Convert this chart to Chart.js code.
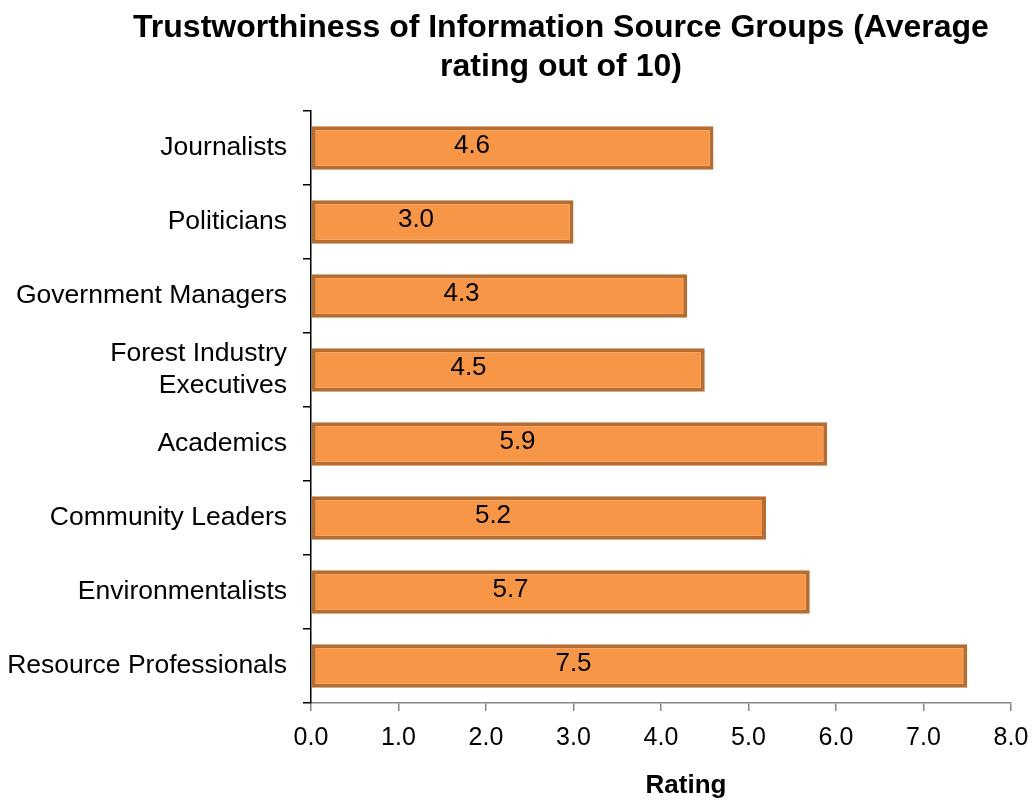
<!DOCTYPE html>
<html>
<head>
<meta charset="utf-8">
<title>Trustworthiness of Information Source Groups</title>
<script src="https://cdn.jsdelivr.net/npm/chart.js@4.4.1/dist/chart.umd.min.js"></script>
<style>
    html, body { margin: 0; padding: 0; background: #fff; }
    #wrap { width: 1033px; height: 800px; position: relative; }
</style>
</head>
<body>
<div id="wrap"><canvas id="mainChart"></canvas></div>
<script>
// --- DATA ---
const categories = [
    'Journalists',
    'Politicians',
    'Government Managers',
    ['Forest Industry', 'Executives'],
    'Academics',
    'Community Leaders',
    'Environmentalists',
    'Resource Professionals'
];
const ratings = [4.6, 3.0, 4.3, 4.5, 5.9, 5.2, 5.7, 7.5];
const xTicks = [0, 1, 2, 3, 4, 5, 6, 7, 8];
const titleLines = ['Trustworthiness of Information Source Groups (Average', 'rating out of 10)'];
const xTitle = 'Rating';

const FONT = '"Liberation Sans", Arial, sans-serif';

// --- TEXT PLUGIN (title, axis title, bar values) ---
const textPlugin = {
    id: 'texts',
    afterDatasetsDraw(chart) {
        const c = chart.ctx;
        const xs = chart.scales.x;
        c.save();
        c.fillStyle = '#000';
        c.textAlign = 'center';
        c.textBaseline = 'middle';

        // value labels inside bars
        c.font = '26px ' + FONT;
        chart.getDatasetMeta(0).data.forEach((bar, i) => {
            const x = xs.getPixelForValue(ratings[i] * 0.4);
            c.fillText(ratings[i].toFixed(1), x, bar.y - 2);
        });

        // chart title
        c.font = 'bold 32px ' + FONT;
        c.fillText(titleLines[0], 561, 28);
        c.fillText(titleLines[1], 561, 67);

        // axis title
        c.font = 'bold 26px ' + FONT;
        c.fillText(xTitle, 686, 786);
        c.restore();
    }
};

// --- CHART ---
const ctx = document.getElementById('mainChart').getContext('2d');
new Chart(ctx, {
    type: 'bar',
    data: {
        labels: categories,
        datasets: [{
            data: ratings,
            backgroundColor: '#F79646',
            borderColor: '#B66D31',
            borderWidth: 4,
            borderSkipped: false,
            categoryPercentage: 1.0,
            barPercentage: 0.59
        }]
    },
    options: {
        indexAxis: 'y',
        responsive: true,
        maintainAspectRatio: false,
        animation: false,
        layout: { padding: { top: 111, right: 22, left: 0, bottom: 0 } },
        plugins: {
            legend: { display: false },
            tooltip: { enabled: false }
        },
        scales: {
            x: {
                min: 0,
                max: 8,
                afterBuildTicks(scale) {
                    scale.ticks = xTicks.map(v => ({ value: v }));
                },
                afterFit(scale) {
                    scale.height = 97;
                    scale.paddingLeft = 0;
                    scale.paddingRight = 0;
                },
                border: { color: '#868686', width: 1.5 },
                grid: {
                    drawOnChartArea: false,
                    drawTicks: true,
                    tickLength: 8,
                    color: '#868686',
                    lineWidth: 1.5
                },
                ticks: {
                    color: '#000',
                    padding: 12,
                    maxRotation: 0,
                    font: { family: FONT, size: 25 },
                    callback: v => v.toFixed(1)
                }
            },
            y: {
                afterFit(scale) { scale.width = 311; },
                border: { color: '#000', width: 1.5 },
                grid: {
                    offset: true,
                    drawOnChartArea: false,
                    drawTicks: true,
                    tickLength: 8,
                    color: '#000',
                    lineWidth: 1.5
                },
                ticks: {
                    color: '#000',
                    padding: 16,
                    font: { family: FONT, size: 26.5, lineHeight: 1.2 }
                }
            }
        }
    },
    plugins: [textPlugin]
});
</script>
</body>
</html>
